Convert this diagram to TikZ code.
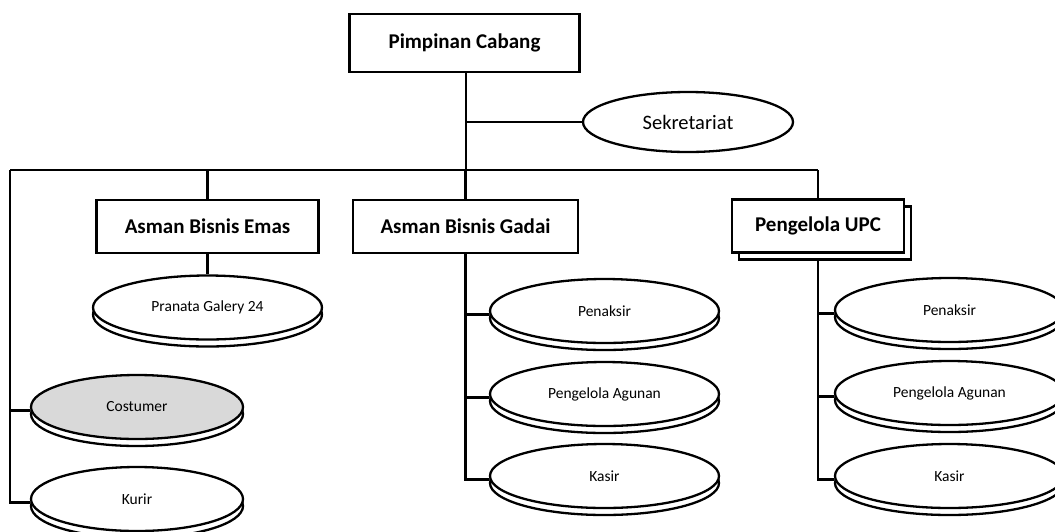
\documentclass[tikz,border=0pt]{standalone}
\usepackage{fontspec}
\setmainfont{Carlito}
\usetikzlibrary{shapes.geometric,calc}
\tikzset{
  boxnode/.style={draw, fill=white, rectangle, inner sep=0pt,
    font=\fontsize{21}{24}\selectfont\bfseries},
  ell/.style={draw, fill=white, ellipse, inner sep=0pt,
    minimum width=229pt, minimum height=64pt, font=\fontsize{15.5}{18}\selectfont},
  smallell/.style={ell, minimum width=212pt},
}
\begin{document}
\begin{tikzpicture}[x=1pt,y=-1pt,line width=2.3pt]
\useasboundingbox (0,0) rectangle (1055,531);
\clip (0,0) rectangle (1055,531);
% boxes
\node[boxnode, minimum width=230pt, minimum height=58pt] (pc) at (464.5,43) {Pimpinan Cabang};
\coordinate (pcs) at (466,72);
\node[draw, ellipse, inner sep=0pt, minimum width=210pt, minimum height=60pt,
  font=\fontsize{20.5}{24}\selectfont] (sek) at (688,122) {Sekretariat};
\node[boxnode, minimum width=222pt, minimum height=53pt] (emas) at (207.5,226.5) {Asman Bisnis Emas};
\node[boxnode, minimum width=225pt, minimum height=53pt] (gadai) at (465.5,226.5) {Asman Bisnis Gadai};
\node[boxnode, minimum width=172pt, minimum height=53pt] (upcb) at (825,233) {};
\node[boxnode, minimum width=172pt, minimum height=53pt] (upc) at (818,226) {Pengelola UPC};
% bus
\coordinate (bus) at (466,170);
\coordinate (lc) at (10,170);
% ellipses (stacked)
\node[ell, yshift=-7pt] (prb) at (207.5,307.5) {};
\node[ell] (pr) at (207.5,307.5) {Pranata Galery 24};
\node[smallell, yshift=-7pt] (cob) at (137,407) {};
\node[smallell, fill={rgb,255:red,217;green,217;blue,217}] (co) at (137,407) {Costumer};
\node[smallell, yshift=-7pt] (kub) at (137,499) {};
\node[smallell] (ku) at (137,499) {Kurir};
\node[ell, yshift=-7pt] (gpb) at (604.5,311) {};
\node[ell] (gp) at (604.5,311) {Penaksir};
\node[ell, yshift=-7pt] (gab) at (604.5,394) {};
\node[ell] (ga) at (604.5,394) {Pengelola Agunan};
\node[ell, yshift=-7pt] (gkb) at (604.5,476) {};
\node[ell] (gk) at (604.5,476) {Kasir};
\node[ell, yshift=-7pt] (upb) at (949.5,310) {};
\node[ell] (up) at (949.5,310) {Penaksir};
\node[ell, yshift=-7pt] (uab) at (949.5,393) {};
\node[ell] (ua) at (949.5,393) {Pengelola Agunan};
\node[ell, yshift=-7pt] (ukb) at (949.5,476) {};
\node[ell] (uk) at (949.5,476) {Kasir};
% connectors
\draw (pcs) -- (bus);
\draw (pcs |- sek.west) -- (sek.west);
\draw (lc) -- (upc.north |- bus);
\draw (emas.north) -- (emas.north |- bus);
\draw (gadai.north) -- (gadai.north |- bus);
\draw (upc.north) -- (upc.north |- bus);
\draw (emas.south) -- (pr.north);
\draw ([yshift=-3.5pt]ku.west) -| (lc);
\draw ([yshift=-3.5pt]co.west) -| (lc);
\draw ([yshift=-3.5pt]gk.west) -| (gadai.south);
\draw ([yshift=-3.5pt]gp.west) -| (gadai.south);
\draw ([yshift=-3.5pt]ga.west) -| (gadai.south);
\draw ([yshift=-3.5pt]uk.west) -| (upcb.south -| upc.south);
\draw ([yshift=-3.5pt]up.west) -| (upcb.south -| upc.south);
\draw ([yshift=-3.5pt]ua.west) -| (upcb.south -| upc.south);
\end{tikzpicture}
\end{document}
